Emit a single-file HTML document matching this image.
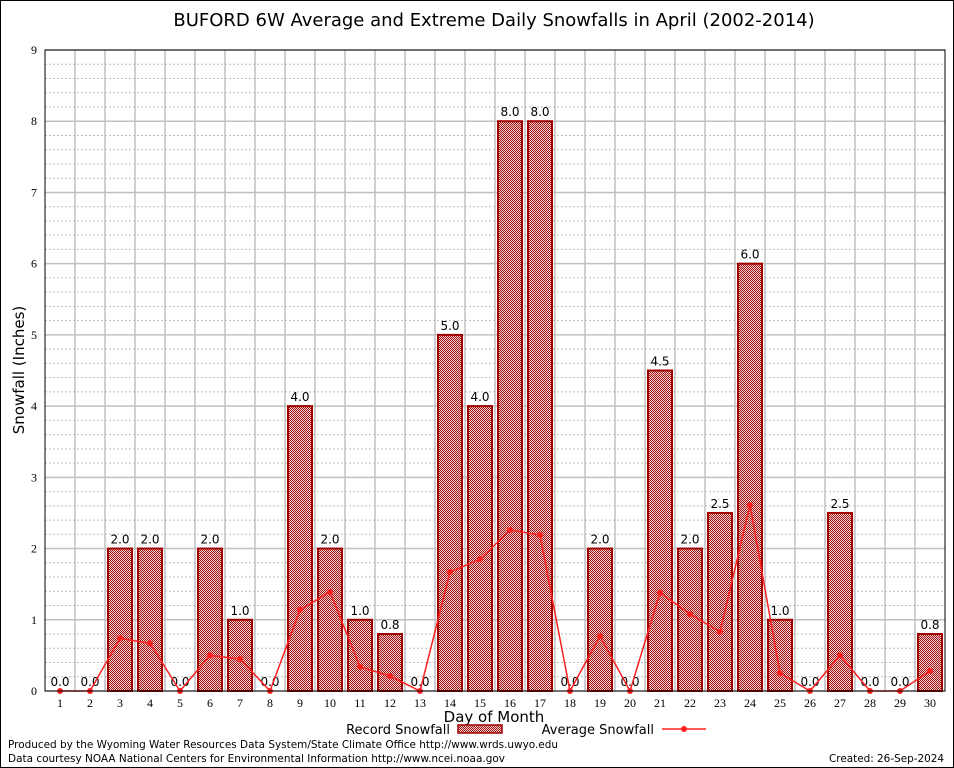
<!DOCTYPE html>
<html><head><meta charset="utf-8"><style>
body{margin:0;background:#fff;}
svg{display:block;font-family:"DejaVu Sans","Liberation Sans",sans-serif;}
</style></head><body>
<svg id="chart" width="954" height="768">
<defs>
<pattern id="chk" width="2" height="2" patternUnits="userSpaceOnUse">
<rect width="2" height="2" fill="#f0d0d0"/>
<rect width="1" height="1" fill="#a01010"/>
<rect x="1" y="1" width="1" height="1" fill="#a01010"/>
</pattern>
</defs>
<rect x="0.5" y="0.5" width="953" height="767" fill="#fff" stroke="#000"/>
<text x="494" y="26" font-size="18" text-anchor="middle">BUFORD 6W Average and Extreme Daily Snowfalls in April (2002-2014)</text>
<g id="grid"></g>
<g id="bars"></g>
<g id="line"></g>
<g id="axes"></g>
<text x="24" y="370" font-size="15" text-anchor="middle" transform="rotate(-90 24 370)">Snowfall (Inches)</text>
<text x="494" y="722" font-size="15" text-anchor="middle">Day of Month</text>
<g>
<text x="450" y="734" font-size="13" text-anchor="end">Record Snowfall</text>
<rect x="458" y="725" width="44" height="8" fill="url(#chk)" stroke="#a00000" stroke-width="1.5"/>
<text x="654" y="734" font-size="13" text-anchor="end">Average Snowfall</text>
<line x1="662" y1="729" x2="706" y2="729" stroke="#ff2020" stroke-width="1.5"/>
<circle cx="684" cy="729" r="3" fill="#ff2020"/>
</g>
<text x="8" y="748" font-size="11" textLength="550" lengthAdjust="spacingAndGlyphs">Produced by the Wyoming Water Resources Data System/State Climate Office http://www.wrds.uwyo.edu</text>
<text x="8" y="762" font-size="11" textLength="497" lengthAdjust="spacingAndGlyphs">Data courtesy NOAA National Centers for Environmental Information http://www.ncei.noaa.gov</text>
<text x="944" y="762" font-size="11" text-anchor="end" textLength="115" lengthAdjust="spacingAndGlyphs">Created:  26-Sep-2024</text>
</svg>
<script>
const days = [1,2,3,4,5,6,7,8,9,10,11,12,13,14,15,16,17,18,19,20,21,22,23,24,25,26,27,28,29,30];
const recordSnow = [0,0,2,2,0,2,1,0,4,2,1,0.8,0,5,4,8,8,0,2,0,4.5,2,2.5,6,1,0,2.5,0,0,0.8];
const avgSnow = [0,0,0.74,0.67,0,0.5,0.45,0,1.14,1.39,0.34,0.21,0,1.67,1.85,2.26,2.19,0,0.77,0,1.38,1.08,0.83,2.61,0.25,0,0.5,0,0,0.28];
const yTicks = [0,1,2,3,4,5,6,7,8,9];
const L=45,R=945,T=50,B=691,YMAX=9;
const NS="http://www.w3.org/2000/svg";
const xs=d=>L+(d-0.5)*(R-L)/30;
const ys=v=>B-v*(B-T)/YMAX;
function mk(tag,attrs,parent){const e=document.createElementNS(NS,tag);for(const k in attrs)e.setAttribute(k,attrs[k]);parent.appendChild(e);return e;}
const grid=document.getElementById('grid'),bars=document.getElementById('bars'),line=document.getElementById('line'),axes=document.getElementById('axes');
for(let v=0.2;v<YMAX;v+=0.2){if(Math.abs(v-Math.round(v))<0.01)continue;
 const g=mk('line',{x1:L,x2:R,y1:ys(v),y2:ys(v),stroke:'#bbb','stroke-dasharray':'2,2','stroke-width':1},grid);
 
 }
yTicks.forEach(v=>{const g=mk('line',{x1:L,x2:R,y1:ys(v),y2:ys(v),stroke:'#c0c0c0','stroke-width':1.5},grid);
 
 
 const t=mk('text',{x:L-8,y:ys(v)+4,'font-size':12,'font-family':'Liberation Serif, serif','text-anchor':'end'},axes);t.textContent=v;
 
 });
for(let i=1;i<30;i++){const g=mk('line',{x1:xs(i+0.5),x2:xs(i+0.5),y1:T,y2:B,stroke:'#c0c0c0','stroke-width':1.5},grid);
 
 }
days.forEach((d,i)=>{const v=recordSnow[i];const x=xs(d);
 if(v>0){const r=mk('rect',{x:x-12,y:ys(v),width:24,height:B-ys(v),fill:'url(#chk)',stroke:'#a00000','stroke-width':2},bars);
  
  }
 const t=mk('text',{x:x,y:ys(v)-5,'font-size':12,'text-anchor':'middle'},bars);t.textContent=v.toFixed(1);
 
 
 const tl=mk('text',{x:x,y:B+16,'font-size':12,'font-family':'Liberation Serif, serif','text-anchor':'middle'},axes);tl.textContent=d;
 
 });
const pl=mk('polyline',{points:days.map((d,i)=>xs(d)+','+ys(avgSnow[i])).join(' '),fill:'none',stroke:'#ff2020','stroke-width':1.5},line);


days.forEach((d,i)=>{const c=mk('circle',{cx:xs(d),cy:ys(avgSnow[i]),r:3,fill:'#ff2020'},line);
 
 });
const fr=mk('rect',{x:L,y:T,width:R-L,height:B-T,fill:'none',stroke:'#000','stroke-width':1},axes);


</script>
</body></html>
